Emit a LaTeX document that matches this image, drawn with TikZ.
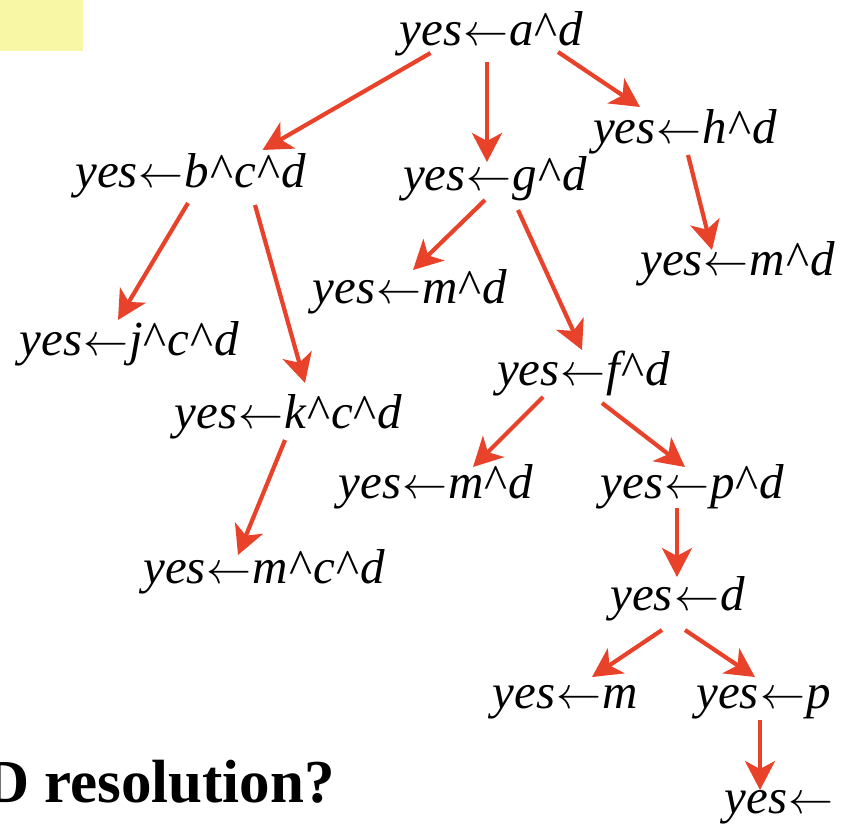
\documentclass[tikz,border=0pt]{standalone}
\usepackage{fontspec}
\setmainfont{Liberation Serif}[ItalicFont={Liberation Serif Italic},BoldFont={Liberation Serif Bold}]
\usetikzlibrary{arrows.meta}
\definecolor{rd}{HTML}{E8432A}
\definecolor{hl}{HTML}{F7F7A6}
\newcommand{\goal}[1]{yes\kern1pt\resizebox{45pt}{!}{$\leftarrow$}\kern1pt#1}
\newcommand{\conj}{\kern1pt{\upshape\textasciicircum}\kern1pt}
\tikzset{
  cl/.style={font=\itshape\fontsize{49}{52}\selectfont,inner sep=0pt,anchor=base},
  ar/.style={-{Stealth[length=29pt,width=30pt,inset=8pt]},line width=4.2pt,draw=rd},
}

\begin{document}
\begin{tikzpicture}[x=1pt,y=-1pt]
\useasboundingbox (0,0) rectangle (842,833);
\fill[hl] (0,0) rectangle (83,51);
\node[cl] (a) at (491.5,45) {\goal{a\conj d}};
\node[cl] (h) at (685,143) {\goal{h\conj d}};
\node[cl] (b) at (190.5,187) {\goal{b\conj c\conj d}};
\node[cl] (g) at (495,190) {\goal{g\conj d}};
\node[cl] (hm) at (737.5,275) {\goal{m\conj d}};
\node[cl] (gm) at (410,303) {\goal{m\conj d}};
\node[cl] (j) at (129.5,355) {\goal{j\conj c\conj d}};
\node[cl] (f) at (583.5,385) {\goal{f\conj d}};
\node[cl] (k) at (288.5,428) {\goal{k\conj c\conj d}};
\node[cl] (fm) at (436,498) {\goal{m\conj d}};
\node[cl] (p) at (692.5,498) {\goal{p\conj d}};
\node[cl] (km) at (264,583) {\goal{m\conj c\conj d}};
\node[cl] (d) at (677.5,610) {\goal{d}};
\node[cl] (dm) at (565,708) {\goal{m}};
\node[cl] (dp) at (763.5,708) {\goal{p}};
\node[cl] (e) at (779.5,813) {\goal{}};
\node[font=\bfseries\fontsize{61}{64}\selectfont,inner sep=0pt,anchor=base east] (q) at (335,802) {D resolution?};
\draw[ar] ([shift={(-61,8)}]a.base) -- ([shift={(72,-37)}]b.base);
\draw[ar] ([shift={(-4.5,17)}]a.base) -- ([shift={(-8,-28)}]g.base);
\draw[ar] ([shift={(66.5,7)}]a.base) -- ([shift={(-45,-36)}]h.base);
\draw[ar] ([shift={(3,12)}]h.base) -- ([shift={(-25.5,-25)}]hm.base);
\draw[ar] ([shift={(-10,10)}]g.base) -- ([shift={(3,-33)}]gm.base);
\draw[ar] ([shift={(23,20)}]g.base) -- ([shift={(-1.5,-35)}]f.base);
\draw[ar] ([shift={(-2.5,16)}]b.base) -- ([shift={(-11.5,-35)}]j.base);
\draw[ar] ([shift={(64.5,18)}]b.base) -- ([shift={(16.5,-45)}]k.base);
\draw[ar] ([shift={(-3.5,12)}]k.base) -- ([shift={(-26,-28)}]km.base);
\draw[ar] ([shift={(-40.5,12)}]f.base) -- ([shift={(37,-31)}]fm.base);
\draw[ar] ([shift={(18.5,18)}]f.base) -- ([shift={(-7.5,-31)}]p.base);
\draw[ar] ([shift={(-15.5,10)}]p.base) -- ([shift={(-0.5,-33)}]d.base);
\draw[ar] ([shift={(-15.5,20)}]d.base) -- ([shift={(27,-31)}]dm.base);
\draw[ar] ([shift={(7.5,20)}]d.base) -- ([shift={(-8.5,-31)}]dp.base);
\draw[ar] ([shift={(-3.5,12)}]dp.base) -- ([shift={(-19.5,-23)}]e.base);
\end{tikzpicture}
\end{document}
